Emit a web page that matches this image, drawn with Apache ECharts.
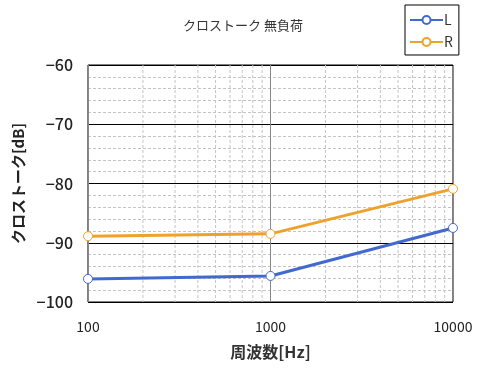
<!DOCTYPE html>
<html>
<head>
<meta charset="utf-8">
<script src="https://cdn.jsdelivr.net/npm/echarts@6/dist/echarts.min.js"></script>
<style>
  html, body { margin: 0; padding: 0; background: #fff; }
  #chart { width: 480px; height: 378px; }
</style>
</head>
<body>
<div id="chart"></div>
<script>
// data
const freqs = [100, 1000, 10000];
const leftDb = [-96.1, -95.6, -87.5];
const rightDb = [-88.9, -88.5, -80.9];
const minorFreqs = [200, 300, 400, 500, 600, 700, 800, 900,
                    2000, 3000, 4000, 5000, 6000, 7000, 8000, 9000];

const FONT = "'Noto Sans CJK JP', sans-serif";
const BLUE = "#4169cf";
const ORANGE = "#eea22c";
const chart = echarts.init(document.getElementById("chart"));

const pairs = (ys) => freqs.map((f, i) => [f, ys[i]]);

// dashed vertical minor grid lines of the log axis
const renderMinor = (params, api) => {
  const cs = params.coordSys;
  const x = api.coord([api.value(0), -80])[0];
  return {
    type: "line",
    shape: { x1: x, y1: cs.y, x2: x, y2: cs.y + cs.height },
    style: { stroke: "#c4c4c4", lineWidth: 1, lineDash: [3, 2] }
  };
};

const option = {
  animation: false,
  title: {
    text: "クロストーク 無負荷",
    left: 238, top: 14, textAlign: "center",
    textStyle: { fontFamily: FONT, fontSize: 13, fontWeight: "normal", color: "#333" }
  },
  legend: {
    data: ["L", "R"],
    orient: "vertical",
    left: 405, top: 5,
    padding: [8, 6, 6, 4],
    itemGap: 8,
    itemWidth: 33, itemHeight: 10,
    borderColor: "#000", borderWidth: 1,
    textStyle: { fontFamily: FONT, fontSize: 14, color: "#333", padding: [0, 0, 0, -4] }
  },
  grid: {
    left: 88, right: 27, top: 65, bottom: 76,
    show: true, borderColor: "#000", borderWidth: 1
  },
  xAxis: {
    type: "log", logBase: 10, min: 100, max: 10000,
    name: "周波数[Hz]", nameLocation: "middle", nameGap: 42,
    nameTextStyle: { fontFamily: FONT, fontSize: 16, fontWeight: "bold", color: "#333" },
    axisLine: { show: false }, axisTick: { show: false },
    axisLabel: {
      fontFamily: FONT, fontSize: 14, color: "#222", margin: 18,
      formatter: (v) => String(Math.round(v))
    },
    splitLine: { show: true, lineStyle: { color: "#888", width: 1 } }
  },
  yAxis: {
    type: "value", min: -100, max: -60, interval: 10,
    name: "クロストーク[dB]", nameLocation: "middle", nameGap: 60, nameRotate: 90,
    nameTextStyle: { fontFamily: FONT, fontSize: 15, fontWeight: "bold", color: "#222" },
    axisLine: { show: false }, axisTick: { show: false },
    axisLabel: {
      fontFamily: FONT, fontSize: 16, fontWeight: 500, color: "#222", margin: 15,
      formatter: (v) => String(v).replace("-", "\u2212")
    },
    splitLine: { show: true, lineStyle: { color: "#000", width: 1 } },
    minorTick: { show: false, splitNumber: 5 },
    minorSplitLine: { show: true, lineStyle: { color: "#c4c4c4", type: [3, 2], width: 1 } }
  },
  series: [
    {
      name: "minor",
      type: "custom",
      data: minorFreqs.map((f) => [f, -80]),
      encode: { x: 0, y: 1 },
      renderItem: renderMinor,
      z: 1,
      silent: true
    },
    {
      name: "L",
      type: "line",
      data: pairs(leftDb),
      z: 3,
      lineStyle: { width: 3, color: BLUE },
      symbol: "circle", symbolSize: 9,
      itemStyle: { color: "#fff", borderColor: BLUE, borderWidth: 1 }
    },
    {
      name: "R",
      type: "line",
      data: pairs(rightDb),
      z: 3,
      lineStyle: { width: 3, color: ORANGE },
      symbol: "circle", symbolSize: 9,
      itemStyle: { color: "#fff", borderColor: ORANGE, borderWidth: 1 }
    }
  ]
};

chart.setOption(option);
</script>
</body>
</html>
